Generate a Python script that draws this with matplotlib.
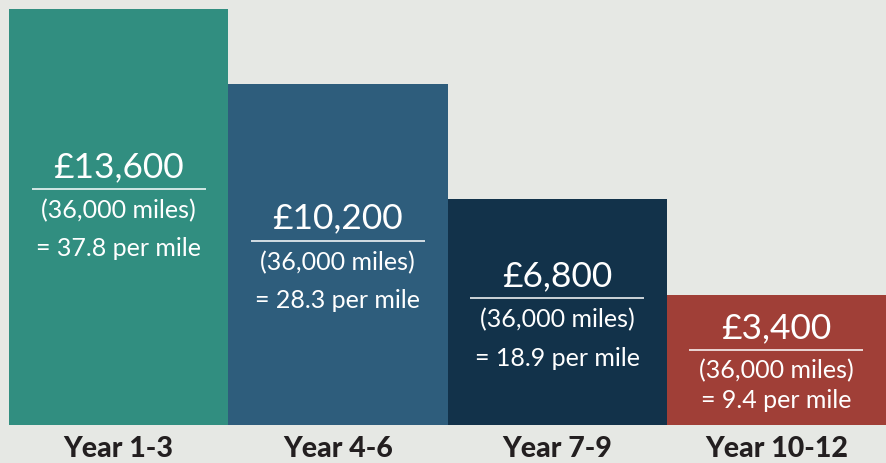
import matplotlib.pyplot as plt

# data
periods = ["Year 1-3", "Year 4-6", "Year 7-9", "Year 10-12"]
costs = [13600, 10200, 6800, 3400]
miles = [36000, 36000, 36000, 36000]
per_mile = [37.8, 28.3, 18.9, 9.4]
bar_heights = [416, 341, 226, 130]  # visual heights as drawn
colors = ["#318e80", "#2e5d7c", "#12324a", "#a03f37"]

bg = "#e6e8e4"
plt.rcParams['font.family'] = ['Lato', 'DejaVu Sans']

fig = plt.figure(figsize=(8.86, 4.64), dpi=100, facecolor=bg)
W, H = 886, 464
# axes spans bar area: left edge of first bar to right edge, baseline to top
ax = fig.add_axes([9 / W, (H - 426) / H, (W - 9) / W, 416 / H])
ax.set_facecolor(bg)
ax.set_xlim(-0.5, len(periods) - 0.5)
ax.set_ylim(0, 416)
for s in ax.spines.values():
    s.set_visible(False)
ax.set_yticks([])

x = list(range(len(periods)))
ax.bar(x, bar_heights, width=1.0, color=colors, linewidth=0)

ax.set_xticks(x)
ax.set_xticklabels(periods, fontsize=20.5, fontweight='black', color='#231f20')
ax.tick_params(axis='x', length=0, pad=7)

half_line = 87 / (877 / len(periods))  # underline half width in data units
for i, (c, m, p, h) in enumerate(zip(costs, miles, per_mile, bar_heights)):
    mid = h / 2
    if i == 0:
        mid += 14  # block sits a little high in the tall bar
    # short bar gets a tighter stack
    offs = (33, 10, -10, -40) if h < 200 else (37, 14, -7, -45)
    ax.text(i, mid + offs[0], f"£{c:,}", ha='center', va='center',
            color='white', fontsize=25.5)
    ax.plot([i - half_line, i + half_line], [mid + offs[1]] * 2,
            color='white', lw=1.1, solid_capstyle='butt')
    ax.text(i, mid + offs[2], f"({m:,} miles)", ha='center', va='center',
            color='white', fontsize=18)
    ax.text(i, mid + offs[3], f"= {p} per mile", ha='center', va='center',
            color='white', fontsize=18)

fig.savefig("out.png", dpi=100, facecolor=bg)
